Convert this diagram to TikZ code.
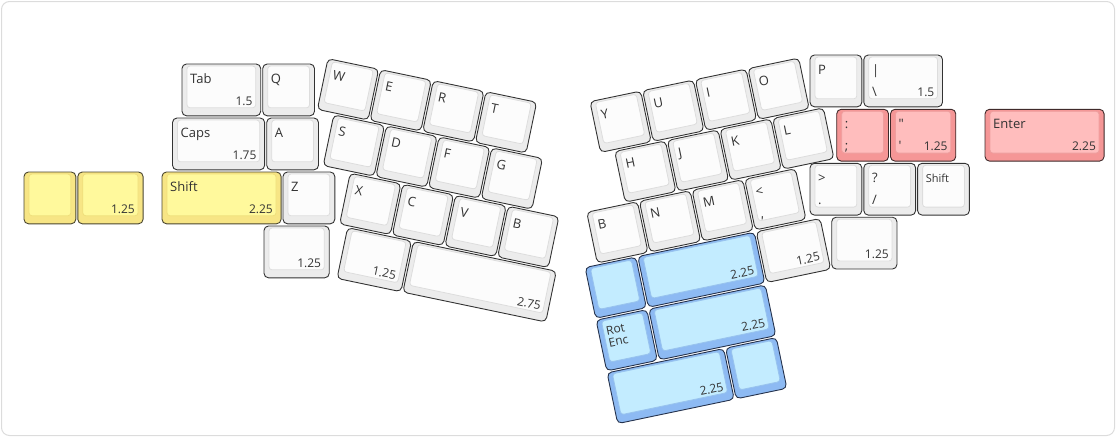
\documentclass[tikz,border=0pt]{standalone}
\usepackage{fontspec}
\setmainfont{Open Sans}
\definecolor{wside}{HTML}{ECECEC}\definecolor{wtop}{HTML}{FCFCFC}\definecolor{wtb}{HTML}{DDDDDD}\definecolor{wbd}{HTML}{333333}
\definecolor{yside}{HTML}{F7E585}\definecolor{ytop}{HTML}{FFF99C}\definecolor{ytb}{HTML}{EFDF7C}\definecolor{ybd}{HTML}{4A4630}
\definecolor{rside}{HTML}{F59696}\definecolor{rtop}{HTML}{FFBDBD}\definecolor{rtb}{HTML}{EE9E9E}\definecolor{rbd}{HTML}{3F2A2A}
\definecolor{bside}{HTML}{8DBAF3}\definecolor{btop}{HTML}{C3ECFF}\definecolor{btb}{HTML}{98C3EE}\definecolor{bbd}{HTML}{26334D}
\definecolor{lblc}{HTML}{333333}
\definecolor{framec}{HTML}{DCDCDC}
\def\KU{53.8}
\tikzset{
  keyside/.style={fill=#1side, draw=#1bd, line width=0.9pt, rounded corners=4.5pt},
  keytop/.style={fill=#1top, draw=#1tb, line width=0.8pt, rounded corners=3pt},
  lbl/.style={inner sep=0pt, font=\fontsize{13}{15}\selectfont, text=lblc, transform shape},
  lblnum/.style={inner sep=0pt, font=\fontsize{12}{14}\selectfont, text=lblc, transform shape},
}
\newcommand\optlbl[5]{%
  \if\relax\detokenize{#5}\relax\else
    \node[#1,anchor=#3] (#2) at #4 {#5};
  \fi}
\newcommand\kk[7]{%
  \begin{scope}[shift={#2}]
    \pgfmathsetmacro\kw{#3*\KU}
    \draw[keyside=#4] (1,1) rectangle (\kw-1,\KU-1);
    \draw[keytop=#4] (6,3) rectangle (\kw-6,\KU-9);
    \optlbl{lbl}{#1-tl}{base west}{(9,20.5)}{#5}
    \optlbl{lbl}{#1-bl}{base west}{(9,\KU-11.5)}{#6}
    \optlbl{lblnum}{#1-br}{base east}{(\kw-9,\KU-11.5)}{#7}
  \end{scope}}
\begin{document}
\begin{tikzpicture}[x=1pt,y=-1pt]
\useasboundingbox (0,0) rectangle (1116,437);
\draw[draw=framec, line width=1pt, rounded corners=8pt] (1.5,1.5) rectangle (1114.5,435.5);
% left, unrotated
\kk{tab}{(181,63)}{1.5}{w}{Tab}{}{1.5}
\kk{q}{(261.7,63)}{1}{w}{Q}{}{}
\kk{caps}{(171.5,117)}{1.75}{w}{Caps}{}{1.75}
\kk{a}{(265.7,117)}{1}{w}{A}{}{}
\kk{ya}{(23,171)}{1}{y}{}{}{}
\kk{yb}{(76.8,171)}{1.25}{y}{}{}{1.25}
\kk{lshift}{(161,171)}{2.25}{y}{Shift}{}{2.25}
\kk{z}{(282,171)}{1}{w}{Z}{}{}
\kk{lth}{(263,225)}{1.25}{w}{}{}{1.25}
% left, rotated
\begin{scope}[shift={(327.2,57.5)}, rotate=-11.8]
\kk{w}{(0,0)}{1}{w}{W}{}{}
\kk{e}{(53.8,0)}{1}{w}{E}{}{}
\kk{r}{(107.6,0)}{1}{w}{R}{}{}
\kk{t}{(161.4,0)}{1}{w}{T}{}{}
\kk{s}{(17.2,53.8)}{1}{w}{S}{}{}
\kk{d}{(71.0,53.8)}{1}{w}{D}{}{}
\kk{f}{(124.8,53.8)}{1}{w}{F}{}{}
\kk{g}{(178.6,53.8)}{1}{w}{G}{}{}
\kk{x}{(45.2,107.6)}{1}{w}{X}{}{}
\kk{c}{(99.0,107.6)}{1}{w}{C}{}{}
\kk{v}{(152.8,107.6)}{1}{w}{V}{}{}
\kk{lb}{(206.6,107.6)}{1}{w}{B}{}{}
\kk{lsa}{(53.8,161.4)}{1.25}{w}{}{}{1.25}
\kk{lsb}{(121.05,161.4)}{2.75}{w}{}{}{2.75}
\end{scope}
% right, rotated
\begin{scope}[shift={(588.8,100.9)}, rotate=11.8]
\kk{yk}{(0,0)}{1}{w}{Y}{}{}
\kk{u}{(53.8,0)}{1}{w}{U}{}{}
\kk{i}{(107.6,0)}{1}{w}{I}{}{}
\kk{o}{(161.4,0)}{1}{w}{O}{}{}
\kk{h}{(14.0,53.8)}{1}{w}{H}{}{}
\kk{j}{(67.8,53.8)}{1}{w}{J}{}{}
\kk{k}{(121.6,53.8)}{1}{w}{K}{}{}
\kk{l}{(175.4,53.8)}{1}{w}{L}{}{}
\kk{rb}{(-25.8,107.6)}{1}{w}{B}{}{}
\kk{n}{(28.0,107.6)}{1}{w}{N}{}{}
\kk{m}{(81.8,107.6)}{1}{w}{M}{}{}
\kk{comma}{(135.6,107.6)}{1}{w}{<}{,}{}
\kk{ba}{(-38.7,161.4)}{1}{b}{}{}{}
\kk{bb}{(15.1,161.4)}{2.25}{b}{}{}{2.25}
\kk{rwa}{(136.15,161.4)}{1.25}{w}{}{}{1.25}
\kk{rot}{(-38.7,215.2)}{1}{b}{}{}{}
\begin{scope}[shift={(-38.7,215.2)}]
\node[lbl,font=\fontsize{12}{12}\selectfont,anchor=base west] (rot-a) at (8.5,18) {Rot};
\node[lbl,font=\fontsize{12}{12}\selectfont,anchor=base west] (rot-b) at (8.5,30) {Enc};
\end{scope}
\kk{bc}{(15.1,215.2)}{2.25}{b}{}{}{2.25}
\kk{bd}{(-38.7,269)}{2.25}{b}{}{}{2.25}
\kk{be}{(82.35,269)}{1}{b}{}{}{}
\end{scope}
% right, unrotated
\kk{p}{(809,54)}{1}{w}{P}{}{}
\kk{pipe}{(862.8,54)}{1.5}{w}{|}{\textbackslash}{1.5}
\kk{semi}{(835.7,108.3)}{1}{r}{:}{;}{}
\kk{quote}{(889.5,108.3)}{1.25}{r}{\textquotedbl}{\textquotesingle}{1.25}
\kk{enter}{(984,108.3)}{2.25}{r}{Enter}{}{2.25}
\kk{dot}{(809,162.3)}{1}{w}{>}{.}{}
\kk{slash}{(862.8,162.3)}{1}{w}{?}{/}{}
\kk{rshift}{(916.6,162.3)}{1}{w}{\fontsize{11}{12}\selectfont Shift}{}{}
\kk{rth}{(830.7,216.2)}{1.25}{w}{}{}{1.25}
\end{tikzpicture}
\end{document}
